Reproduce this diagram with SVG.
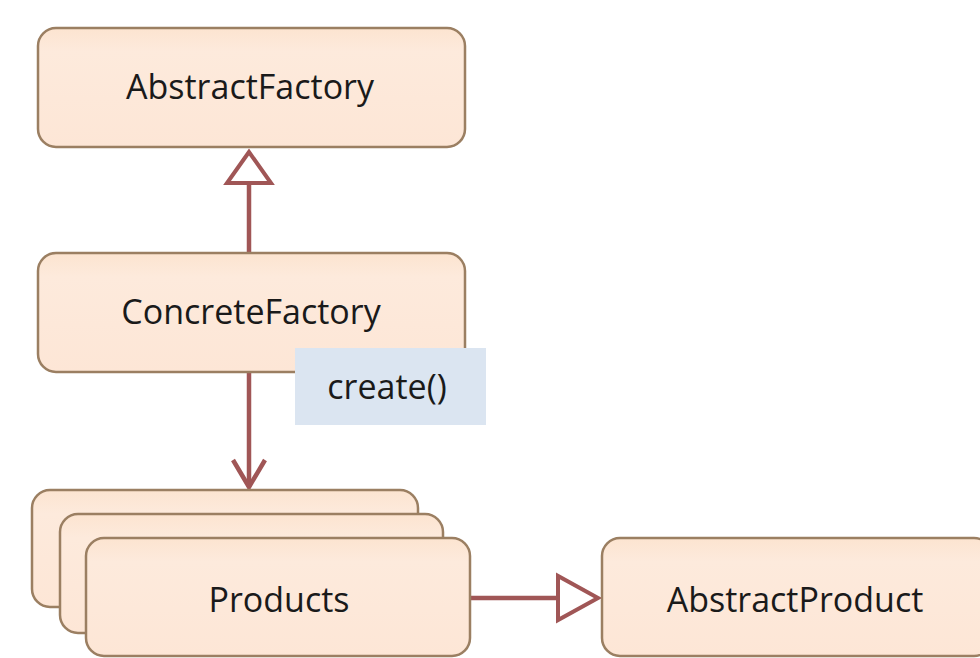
<svg xmlns="http://www.w3.org/2000/svg" width="980" height="658" viewBox="0 0 980 658">
<defs>
<linearGradient id="g" x1="0" y1="0" x2="0" y2="1">
<stop offset="0" stop-color="#fce4d0"/>
<stop offset="0.2" stop-color="#fdeadc"/>
<stop offset="1" stop-color="#fde6d6"/>
</linearGradient>
<style>
.box{fill:url(#g);stroke:#9b7f62;stroke-width:2.5}
.lbl{font-family:"Open Sans","DejaVu Sans",sans-serif;font-size:34px;fill:#1a1a1a;text-anchor:middle}
.con{stroke:#a05656;stroke-width:4.5;fill:none}
.tri{stroke:#a05656;stroke-width:4;fill:#ffffff}
</style>
</defs>
<rect width="980" height="658" fill="#ffffff"/>
<g id="connectors">
<line class="con" x1="249" y1="183" x2="249" y2="253"/>
<polygon class="tri" points="249,152 227,183 271,183"/>
<line class="con" x1="249" y1="372" x2="249" y2="487"/>
<polyline class="con" points="233,460 249,487 265,460"/>
<line class="con" x1="470" y1="598" x2="558" y2="598"/>
<polygon class="tri" points="598,598 558,576 558,620"/>
</g>
<g id="AbstractFactory">
<rect class="box" x="38" y="28" width="427" height="119" rx="18"/>
<text class="lbl" x="250" y="99">AbstractFactory</text>
</g>
<g id="ConcreteFactory">
<rect class="box" x="38" y="253" width="427" height="119" rx="18"/>
<text class="lbl" x="251" y="324">ConcreteFactory</text>
</g>
<g id="create">
<rect x="295" y="348" width="191" height="77" fill="#dbe5f1"/>
<text class="lbl" x="387" y="399">create()</text>
</g>
<g id="Products">
<rect class="box" x="32" y="490" width="386" height="117" rx="18"/>
<rect class="box" x="60" y="514" width="383" height="119" rx="18"/>
<rect class="box" x="86" y="538" width="384" height="118" rx="18"/>
<text class="lbl" x="279" y="612">Products</text>
</g>
<g id="AbstractProduct">
<rect class="box" x="602" y="538" width="390" height="118" rx="18"/>
<text class="lbl" x="795" y="612">AbstractProduct</text>
</g>
</svg>
